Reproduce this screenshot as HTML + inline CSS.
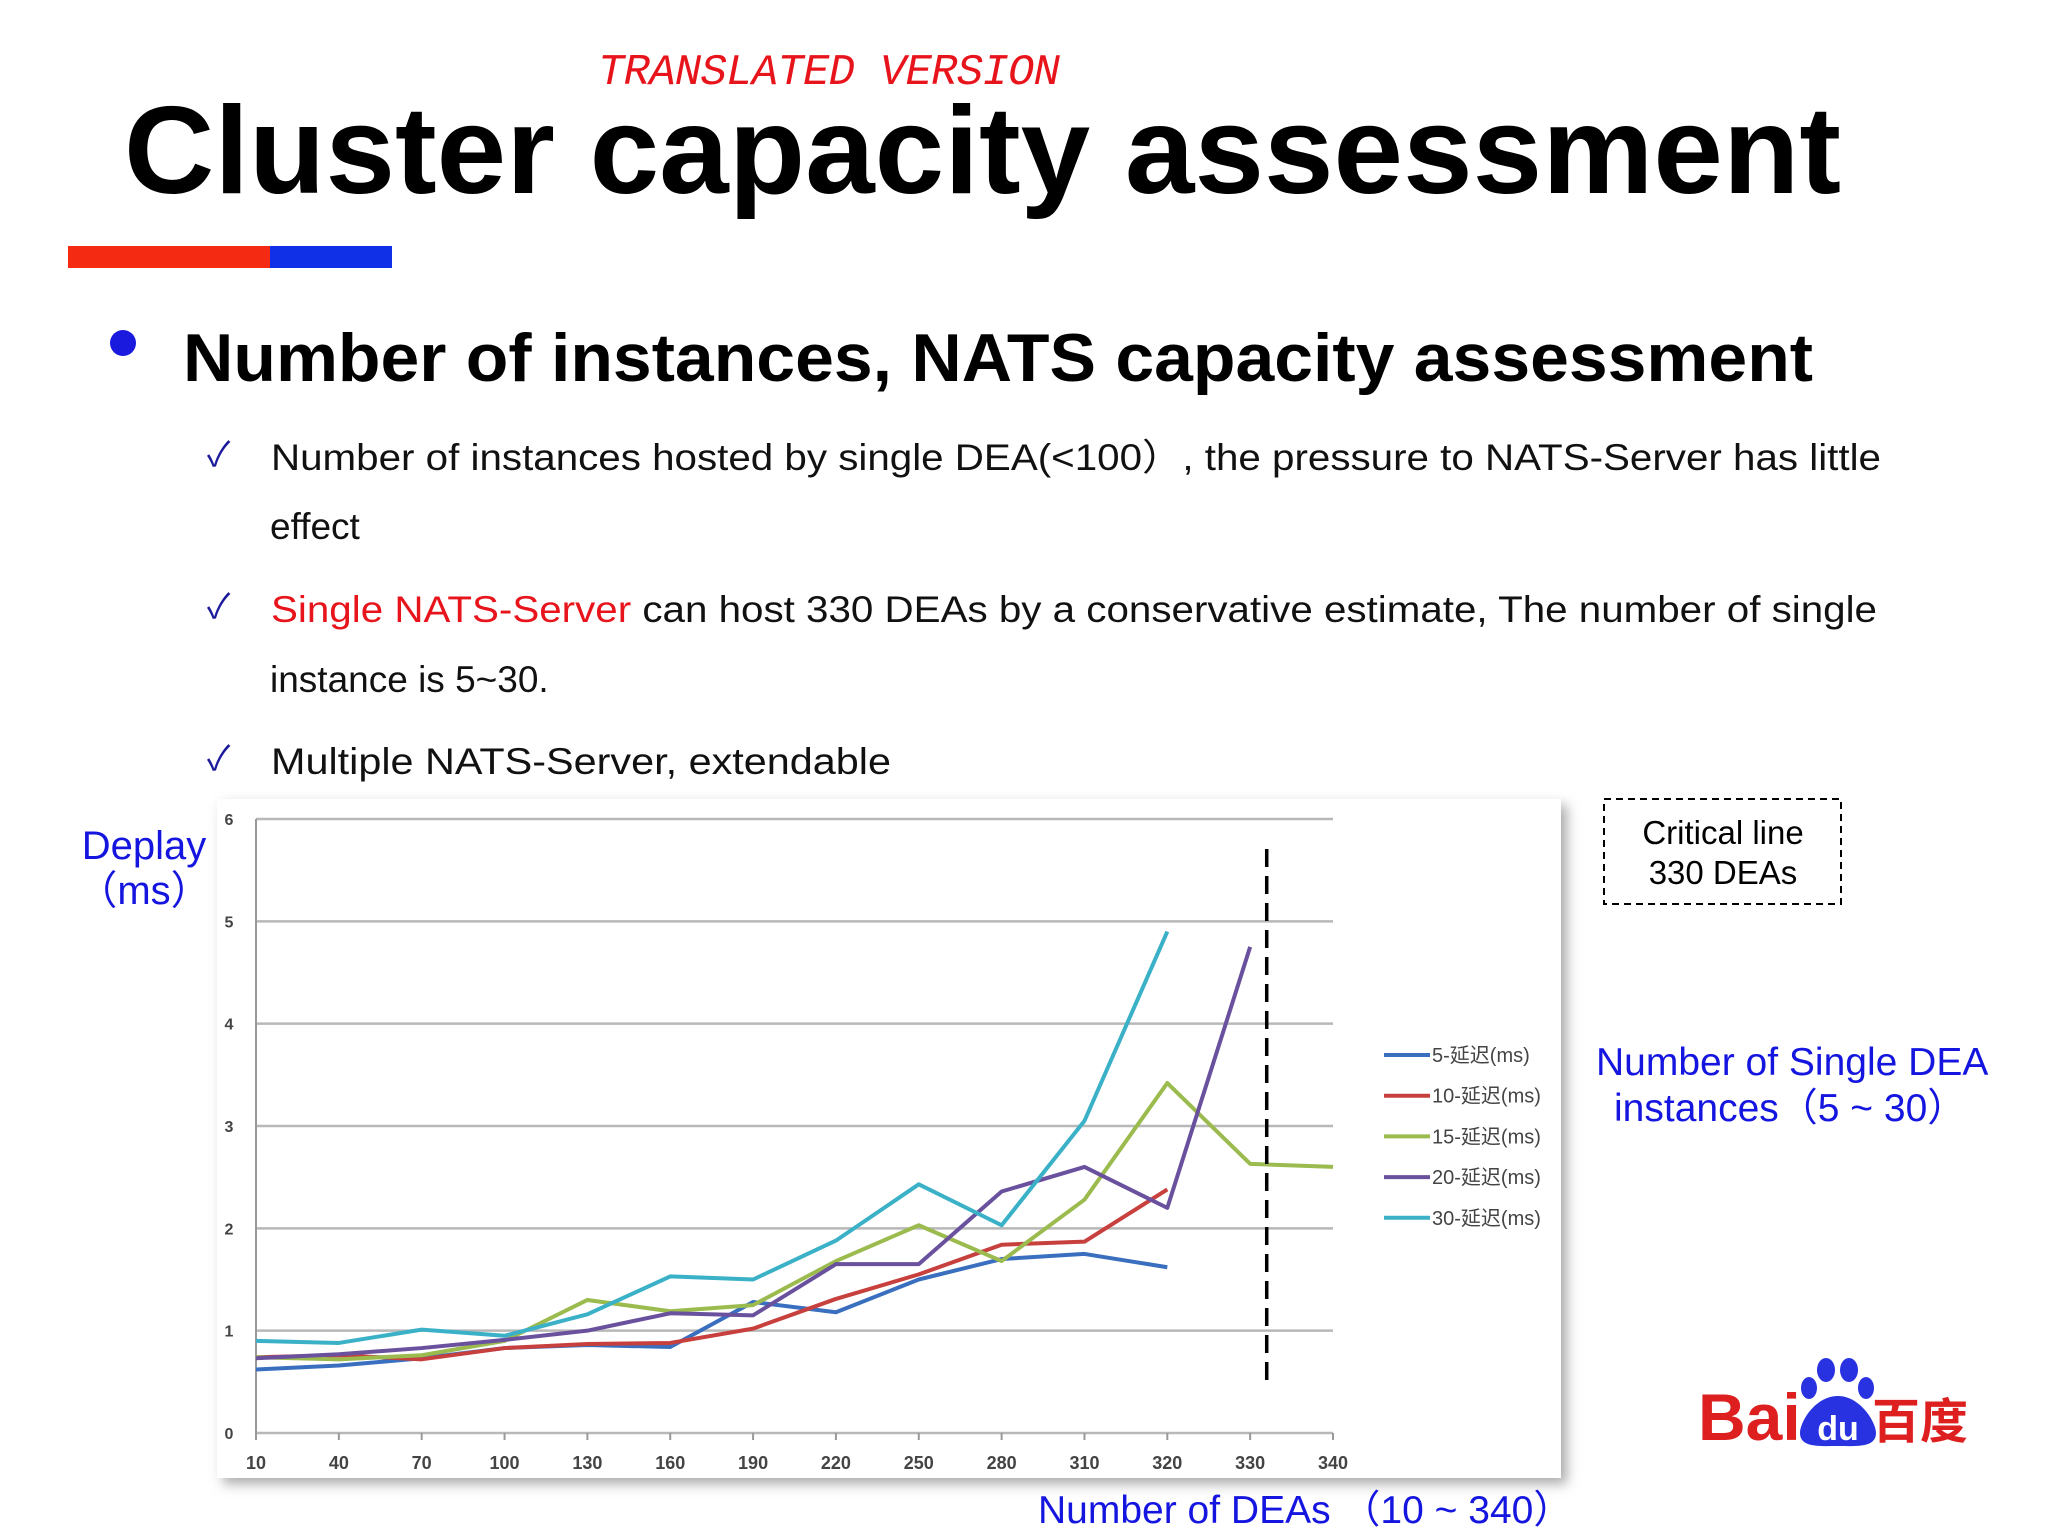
<!DOCTYPE html>
<html><head><meta charset="utf-8"><style>
html,body{margin:0;padding:0;background:#fff;}
svg{display:block;font-family:"Liberation Sans","Noto Sans CJK SC",sans-serif;}
</style></head><body>
<svg id="root" width="2048" height="1536" viewBox="0 0 2048 1536" xmlns="http://www.w3.org/2000/svg">
<defs>
<filter id="sh" x="-5%" y="-5%" width="115%" height="115%"><feDropShadow dx="6" dy="6" stdDeviation="6" flood-color="#888" flood-opacity="0.7"/></filter>
</defs>
<text x="598" y="84" font-family="Liberation Mono, monospace" font-style="italic" font-size="44" fill="#e8141c" textLength="462">TRANSLATED VERSION</text>
<text x="124" y="193" font-weight="bold" font-size="124" fill="#000" textLength="1717" lengthAdjust="spacingAndGlyphs">Cluster capacity assessment</text>
<rect x="68" y="246" width="202" height="22" fill="#f42a12"/>
<rect x="270" y="246" width="122" height="22" fill="#1030e8"/>
<circle cx="123" cy="343" r="13" fill="#1a1adf"/>
<text x="183" y="381" font-weight="bold" font-size="68" fill="#000" textLength="1630" lengthAdjust="spacingAndGlyphs">Number of instances,   NATS capacity assessment</text>
<g font-size="37" fill="#111">
<text x="207" y="466" fill="#1a1a9a" font-size="34">✓</text>
<text x="271" y="470" textLength="1610" lengthAdjust="spacingAndGlyphs">Number of instances hosted by single DEA(&lt;100）,  the pressure to NATS-Server has little</text>
<text x="270" y="539">effect</text>
<text x="207" y="618" fill="#1a1a9a" font-size="34">✓</text>
<text x="271" y="622" textLength="1606" lengthAdjust="spacingAndGlyphs"><tspan fill="#e8141c">Single NATS-Server</tspan> can host 330 DEAs by a conservative estimate,  The number of single</text>
<text x="270" y="692">instance is 5~30.</text>
<text x="207" y="770" fill="#1a1a9a" font-size="34">✓</text>
<text x="271" y="774" textLength="620" lengthAdjust="spacingAndGlyphs">Multiple NATS-Server,  extendable</text>
</g>
<g fill="#1515e0" font-size="40" text-anchor="middle">
<text x="144" y="859">Deplay</text>
<text x="144" y="904">（ms）</text>
</g>
<rect x="217" y="799" width="1344" height="679" fill="#fff" filter="url(#sh)"/>
<g id="chart"></g>
<rect x="1604" y="799" width="237" height="105" fill="none" stroke="#000" stroke-width="2" stroke-dasharray="7,5"/>
<g font-size="33" text-anchor="middle" fill="#000">
<text x="1723" y="844">Critical line</text>
<text x="1723" y="884">330 DEAs</text>
</g>
<g fill="#1515e0" font-size="39">
<text x="1596" y="1075">Number of Single DEA</text>
<text x="1614" y="1121">instances（5 ~ 30）</text>
<text x="1038" y="1523">Number of DEAs （10 ~ 340）</text>
</g>
<g>
<text x="1698" y="1440" font-weight="bold" font-size="66" fill="#de1f1f">Bai</text>
<ellipse cx="1809" cy="1388" rx="8" ry="11" fill="#2932e1"/>
<ellipse cx="1826" cy="1370" rx="9" ry="12" fill="#2932e1"/>
<ellipse cx="1849" cy="1370" rx="9" ry="12" fill="#2932e1"/>
<ellipse cx="1866" cy="1388" rx="8" ry="11" fill="#2932e1"/>
<path d="M1838 1396 C1815 1396 1800 1422 1800 1433 C1800 1448 1820 1446 1838 1446 C1856 1446 1876 1448 1876 1433 C1876 1422 1860 1396 1838 1396Z" fill="#2932e1"/>
<text x="1838" y="1440" text-anchor="middle" font-weight="bold" font-size="34" fill="#fff">du</text>
<text x="1872" y="1438" font-weight="bold" font-size="48" fill="#de1f1f" font-family="Noto Sans CJK SC, sans-serif">百度</text>
</g>
</svg>
<script>
const categories = [10,40,70,100,130,160,190,220,250,280,310,320,330,340];
const seriesNames = ["5-延迟(ms)","10-延迟(ms)","15-延迟(ms)","20-延迟(ms)","30-延迟(ms)"];
const s5  = [0.62,0.66,0.73,0.83,0.86,0.84,1.28,1.18,1.5,1.7,1.75,1.62];
const s10 = [0.74,0.76,0.72,0.83,0.87,0.88,1.02,1.31,1.55,1.84,1.87,2.38];
const s15 = [0.74,0.72,0.76,0.9,1.3,1.19,1.25,1.68,2.03,1.68,2.28,3.42,2.63,2.6];
const s20 = [0.73,0.77,0.83,0.91,1.0,1.17,1.15,1.65,1.65,2.36,2.6,2.2,4.75];
const s30 = [0.9,0.88,1.01,0.95,1.16,1.53,1.5,1.88,2.43,2.03,3.05,4.9];
const yTicks = [0,1,2,3,4,5,6];
const criticalX = 332;
const colors = ["#3a6fbf","#c7403d","#9bbb4f","#6a519e","#3ab1c7"];
const NS = "http://www.w3.org/2000/svg";
const g = document.getElementById('chart');
const X0=256, X1=1333, Y0=1433, Y1=819;
const xIdx = i => X0 + i*(X1-X0)/(categories.length-1);
const xVal = v => {
  for(let i=0;i<categories.length-1;i++){ if(v<=categories[i+1]) return xIdx(i)+(v-categories[i])/(categories[i+1]-categories[i])*(xIdx(i+1)-xIdx(i)); }
  return X1; };
const y = v => Y0 - (v-yTicks[0])/(yTicks[yTicks.length-1]-yTicks[0])*(Y0-Y1);
function mk(t,a){const e=document.createElementNS(NS,t);for(const k in a)e.setAttribute(k,a[k]);g.appendChild(e);return e;}
yTicks.forEach(t=>{
  const l=mk('line',{x1:X0,x2:X1,y1:y(t),y2:y(t),stroke:'#b8b8b8','stroke-width':2.5});
  
  
  const tx=mk('text',{x:229,y:y(t)+6,'font-size':16,'font-weight':'bold','text-anchor':'middle',fill:'#444'});
  tx.textContent=t;
  
  
});
const ax=mk('line',{x1:X0,x2:X0,y1:Y1,y2:Y0,stroke:'#999','stroke-width':2});


categories.forEach((c,i)=>{
  const tk=mk('line',{x1:xIdx(i),x2:xIdx(i),y1:Y0,y2:Y0+7,stroke:'#999','stroke-width':2});
  
  
  const tx=mk('text',{x:xIdx(i),y:Y0+36,'font-size':18,'font-weight':'bold','text-anchor':'middle',fill:'#444'});
  tx.textContent=c;
  
  
});
[s5,s10,s15,s20,s30].forEach((s,k)=>{
  const pts=s.map((v,i)=>xIdx(i)+','+y(v)).join(' ');
  const pl=mk('polyline',{points:pts,fill:'none',stroke:colors[k],'stroke-width':4,'stroke-linejoin':'round'});
  
  
  const ly=1055+k*40.7;
  const ll=mk('line',{x1:1384,x2:1430,y1:ly,y2:ly,stroke:colors[k],'stroke-width':4});
  
  
  const lt=mk('text',{x:1432,y:ly+7,'font-size':20,fill:'#444'});
  lt.textContent=seriesNames[k];
  
  
});
const cl=mk('line',{x1:xVal(criticalX),x2:xVal(criticalX),y1:849,y2:1384,stroke:'#000','stroke-width':3.5,'stroke-dasharray':'18,9'});


</script>
</body></html>
